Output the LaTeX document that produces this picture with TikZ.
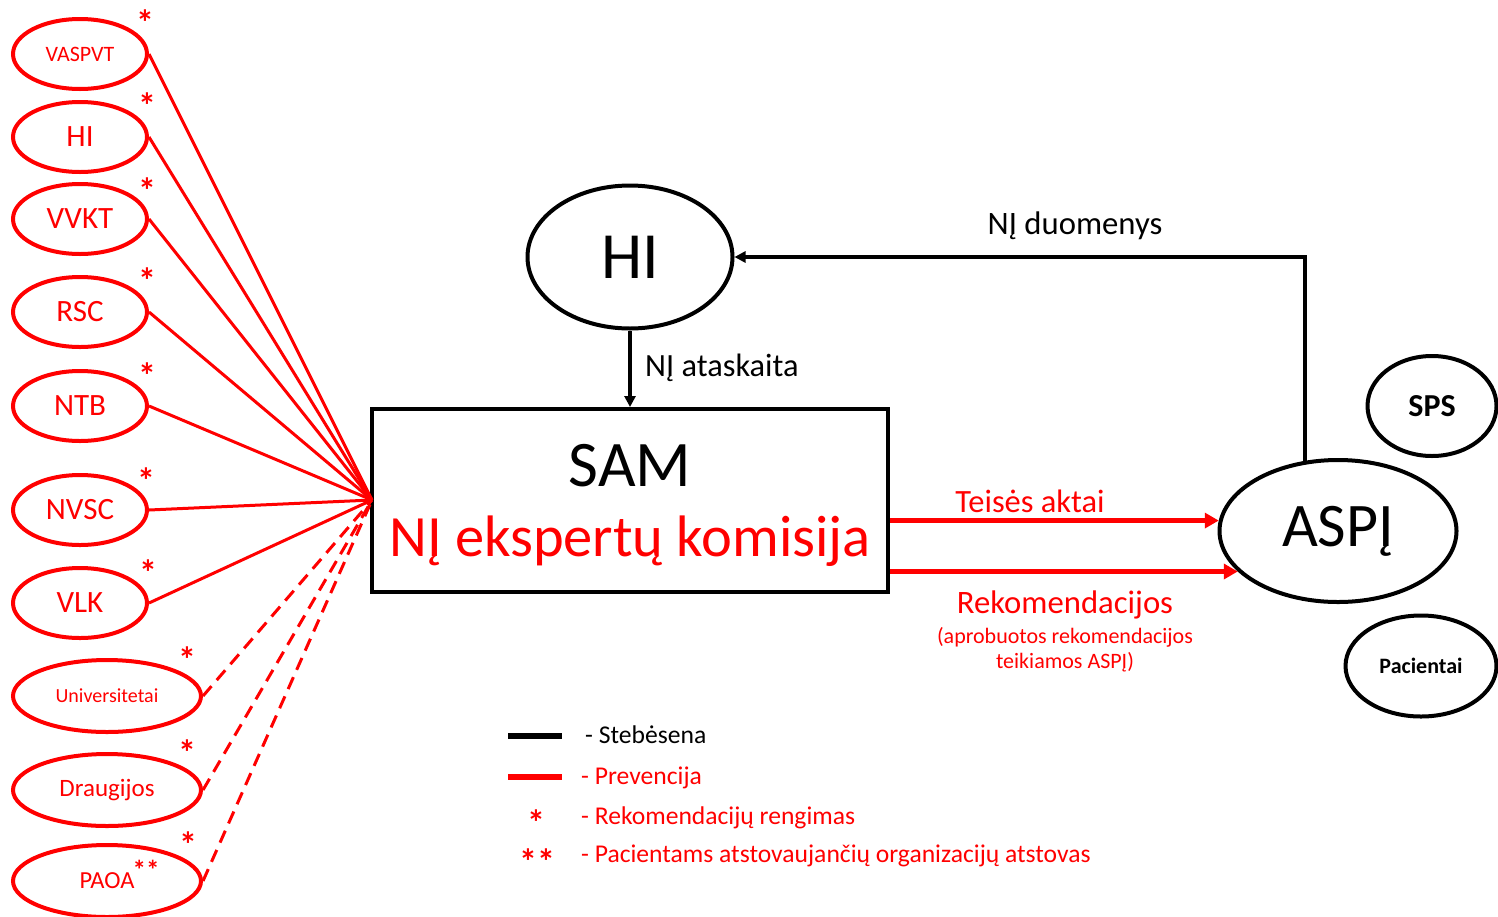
\documentclass[tikz,border=0pt]{standalone}
\usepackage{fontspec}
\setmainfont{Carlito}
\usetikzlibrary{shapes.geometric,arrows.meta}
\definecolor{pred}{RGB}{255,0,0}
\tikzset{
  redell/.style={ellipse,draw=pred,line width=4pt,text=pred,inner sep=0pt},
  blkell/.style={ellipse,draw=black,line width=4pt,text=black,inner sep=0pt},
  star/.style={text=pred,inner sep=0pt,font=\bfseries\fontsize{36}{36}\selectfont},
  redline/.style={draw=pred,line width=3pt},
  reddash/.style={draw=pred,line width=3pt,dash pattern=on 13pt off 8pt},
  blkarrow/.style={draw=black,line width=4pt,-{Triangle[length=11pt,width=11pt]}},
  redarrow/.style={draw=pred,line width=5pt,-{Triangle[length=14pt,width=15pt]}},
  lbl/.style={inner sep=0pt},
}
\begin{document}
\begin{tikzpicture}[x=1pt,y=-1pt]
\useasboundingbox (0,0) rectangle (1498,916);
% left ellipses
\node[redell,minimum width=134pt,minimum height=70pt,font=\fontsize{22}{22}\selectfont] (vaspvt) at (80,54) {VASPVT};
\node[redell,minimum width=134pt,minimum height=70pt,font=\fontsize{31}{31}\selectfont] (hil) at (80,137) {HI};
\node[redell,minimum width=134pt,minimum height=70pt,font=\fontsize{31}{31}\selectfont] (vvkt) at (80,219) {VVKT};
\node[redell,minimum width=134pt,minimum height=70pt,font=\fontsize{31}{31}\selectfont] (rsc) at (80,312) {RSC};
\node[redell,minimum width=134pt,minimum height=70pt,font=\fontsize{31}{31}\selectfont] (ntb) at (80,406) {NTB};
\node[redell,minimum width=134pt,minimum height=70pt,font=\fontsize{31}{31}\selectfont] (nvsc) at (80,510) {NVSC};
\node[redell,minimum width=134pt,minimum height=70pt,font=\fontsize{31}{31}\selectfont] (vlk) at (80,603) {VLK};
\node[redell,minimum width=188pt,minimum height=72pt,font=\fontsize{20}{20}\selectfont] (univ) at (107,696) {Universitetai};
\node[redell,minimum width=188pt,minimum height=72pt,font=\fontsize{25}{25}\selectfont] (draug) at (107,790) {Draugijos};
\node[redell,minimum width=188pt,minimum height=72pt,font=\fontsize{24.5}{24.5}\selectfont] (paoa) at (107,881) {PAOA};
% asterisks
\node[star] (s1) at (145,23) {*};
\node[star] (s2) at (147,106) {*};
\node[star] (s3) at (147,191) {*};
\node[star] (s4) at (147,281) {*};
\node[star] (s5) at (147,376) {*};
\node[star] (s6) at (146,481) {*};
\node[star] (s7) at (148,573) {*};
\node[star] (s8) at (187,660) {*};
\node[star] (s9) at (187,753) {*};
\node[star] (s10) at (188,845) {*};
\node[star,font=\bfseries\fontsize{27}{27}\selectfont] (s11) at (146,870) {**};
% SAM box
\node[draw=black,line width=4pt,minimum width=516pt,minimum height=183pt,inner sep=0pt] (sam) at (630,500.5) {};
\node[lbl,font=\fontsize{65}{65}\selectfont] (samt) at (630,466) {SAM};
\node[lbl,text=pred,font=\fontsize{58.5}{58.5}\selectfont] (komt) at (630,541) {NĮ ekspertų komisija};
% convergence point
\coordinate (conv) at (372,500);
\foreach \n in {vaspvt,hil,vvkt,rsc,ntb,nvsc,vlk}{\draw[redline] (\n.east) -- (conv);}
\foreach \n in {univ,draug,paoa}{\draw[reddash] (\n.east) -- (conv);}
% HI big
\node[blkell,minimum width=205pt,minimum height=143pt,font=\fontsize{66}{66}\selectfont] (hi) at (630,257) {HI};
\draw[blkarrow] (hi.south) -- (sam.north);
\node[lbl,anchor=west,font=\fontsize{32.4}{32.4}\selectfont] (atask) at (645,368) {NĮ ataskaita};
% ASPJ
\node[blkell,minimum width=237pt,minimum height=142pt,font=\fontsize{62}{62}\selectfont] (aspj) at (1338,531) {ASPĮ};
\node[blkell,minimum width=129pt,minimum height=100pt,font=\bfseries\fontsize{32}{32}\selectfont] (sps) at (1432,406) {SPS};
\node[blkell,minimum width=151pt,minimum height=101pt,font=\bfseries\fontsize{22}{22}\selectfont] (pac) at (1421,666) {Pacientai};
\draw[draw=black,line width=4pt,-{Triangle[length=11pt,width=11pt]}] (aspj.115) |- (hi.east);
\node[lbl,font=\fontsize{32.7}{32.7}\selectfont] (duom) at (1075,226) {NĮ duomenys};
% red arrows
\draw[redarrow] (sam.east |- aspj.175) -- (aspj.175);
\draw[redarrow] (sam.east |- aspj.202) -- (aspj.202);
\node[lbl,text=pred,font=\fontsize{32.5}{32.5}\selectfont] (teis) at (1030,501) {Teisės aktai};
\node[lbl,text=pred,font=\fontsize{32.7}{32.7}\selectfont] (rek) at (1065,605) {Rekomendacijos};
\node[lbl,text=pred,font=\fontsize{22}{22}\selectfont,align=center] (rek2) at (1065,650) {(aprobuotos rekomendacijos\\[3pt]teikiamos ASPĮ)};
% legend
\draw[draw=black,line width=6pt] (508,736) -- (562,736);
\draw[draw=pred,line width=6pt] (508,777) -- (562,777);
\node[lbl,anchor=west,font=\fontsize{25.6}{25.6}\selectfont] (l1) at (585,735) {- Stebėsena};
\node[lbl,anchor=west,text=pred,font=\fontsize{25.6}{25.6}\selectfont] (l2) at (581,778) {- Prevencija};
\node[star] (l3s) at (536,823) {*};
\node[lbl,anchor=west,text=pred,font=\fontsize{25.6}{25.6}\selectfont] (l3) at (581,818) {- Rekomendacijų rengimas};
\node[star] (l4s) at (537,862) {**};
\node[lbl,anchor=west,text=pred,font=\fontsize{25.6}{25.6}\selectfont] (l4) at (581,856) {- Pacientams atstovaujančių organizacijų atstovas};
\end{tikzpicture}
\end{document}
